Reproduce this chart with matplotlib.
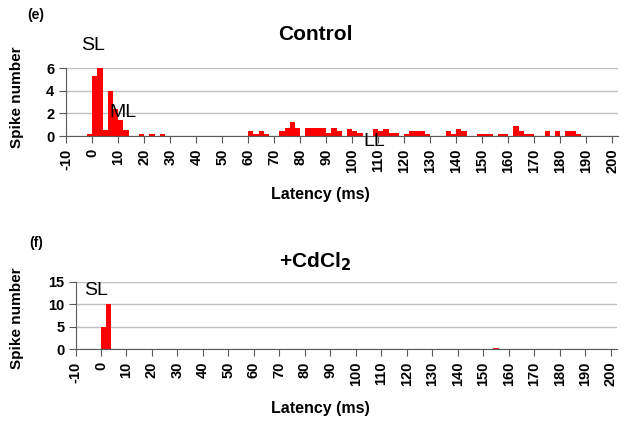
import matplotlib
matplotlib.use("Agg")
import matplotlib.pyplot as plt

plt.rcParams['font.family'] = ['Liberation Sans', 'DejaVu Sans']

# ---- data (bin left edges in ms, bin width 2 ms) ----
ctrl_bins = [-2, 0, 2, 4, 6, 8, 10, 12, 18, 22, 26,
             60, 62, 64, 66, 72, 74, 76, 78, 82, 84, 86, 88, 90, 92, 94,
             98, 100, 102, 108, 110, 112, 114, 116, 120, 122, 124, 126, 128,
             136, 138, 140, 142, 148, 150, 152, 156, 158, 162, 164, 166, 168,
             174, 178, 182, 184, 186]
ctrl_counts = [0.2, 5.3, 6.0, 0.5, 4.0, 2.4, 1.4, 0.5, 0.2, 0.2, 0.2,
               0.4, 0.2, 0.4, 0.2, 0.4, 0.7, 1.2, 0.7, 0.7, 0.7, 0.7, 0.7, 0.3, 0.7, 0.4,
               0.6, 0.4, 0.3, 0.6, 0.4, 0.6, 0.3, 0.3, 0.2, 0.4, 0.4, 0.4, 0.2,
               0.4, 0.2, 0.6, 0.4, 0.2, 0.2, 0.2, 0.2, 0.2, 0.9, 0.4, 0.2, 0.2,
               0.4, 0.4, 0.4, 0.4, 0.2]
cd_bins = [0, 2, 154]
cd_counts = [5.0, 10.0, 0.2]
xticks = list(range(-10, 201, 10))
ctrl_yticks = [0, 2, 4, 6]
cd_yticks = [0, 5, 10, 15]

W, H = 629, 426
fig = plt.figure(figsize=(W / 100, H / 100), dpi=100)

def px_axes(l, t, r, b):
    return fig.add_axes([l / W, 1 - b / H, (r - l) / W, (b - t) / H])

def style(ax, yticks, xlim):
    ax.set_xlim(*xlim)
    ax.set_ylim(yticks[0], yticks[-1])
    ax.set_yticks(yticks)
    ax.set_xticks(xticks)
    ax.set_xticklabels([str(v) for v in xticks], rotation=90, fontsize=10.5, fontweight='bold')
    ax.set_yticklabels([str(v) for v in yticks], fontsize=10.5, fontweight='bold')
    for s in ['top', 'right']:
        ax.spines[s].set_visible(False)
    ax.spines['left'].set_color('#595959')
    ax.spines['bottom'].set_color('#595959')
    ax.grid(axis='y', color='#bfbfbf', linewidth=1)
    ax.set_axisbelow(True)
    ax.tick_params(axis='both', length=5, color='#595959', pad=3)
    ax.tick_params(axis='x', pad=4)
    ax.patch.set_alpha(0)

# ---- top: Control ----
ax1 = px_axes(65.5, 68, 618, 136)
ax1.bar(ctrl_bins, ctrl_counts, width=2, align='edge', color='#ff0000', linewidth=0)
style(ax1, ctrl_yticks, (-10.3, 202.2))
ax1.text(0.3, 8.0, 'SL', fontsize=14, ha='center', va='center', clip_on=False)
ax1.text(11.6, 2.1, 'ML', fontsize=14, ha='center', va='center', clip_on=False)
ax1.text(108.5, -0.45, 'LL', fontsize=14, ha='center', va='center', clip_on=False)

# ---- bottom: CdCl2 ----
ax2 = px_axes(75.5, 281.7, 617, 349.3)
ax2.bar(cd_bins, cd_counts, width=2, align='edge', color='#ff0000', linewidth=0)
style(ax2, cd_yticks, (-9.9, 202.5))
ax2.text(-1.8, 13.1, 'SL', fontsize=14, ha='center', va='center', clip_on=False)

# ---- figure texts ----
fig.text(36 / W, 1 - 15 / H, '(e)', fontsize=10, fontweight='bold', ha='center', va='center')
fig.text(36 / W, 1 - 243 / H, '(f)', fontsize=10, fontweight='bold', ha='center', va='center')
fig.text(315 / W, 1 - 35 / H, 'Control', fontsize=15, fontweight='bold', ha='center', va='center')
fig.text(315 / W, 1 - 262 / H, '+CdCl$_\\mathbf{2}$', fontsize=15, fontweight='bold', ha='center', va='center')
fig.text(17 / W, 1 - 97 / H, 'Spike number', fontsize=11, fontweight='bold', rotation=90, ha='center', va='center')
fig.text(17 / W, 1 - 318 / H, 'Spike number', fontsize=11, fontweight='bold', rotation=90, ha='center', va='center')
fig.text(320 / W, 1 - 194 / H, 'Latency (ms)', fontsize=11.5, fontweight='bold', ha='center', va='center')
fig.text(320 / W, 1 - 409 / H, 'Latency (ms)', fontsize=11.5, fontweight='bold', ha='center', va='center')

fig.savefig('out.png', dpi=100)
